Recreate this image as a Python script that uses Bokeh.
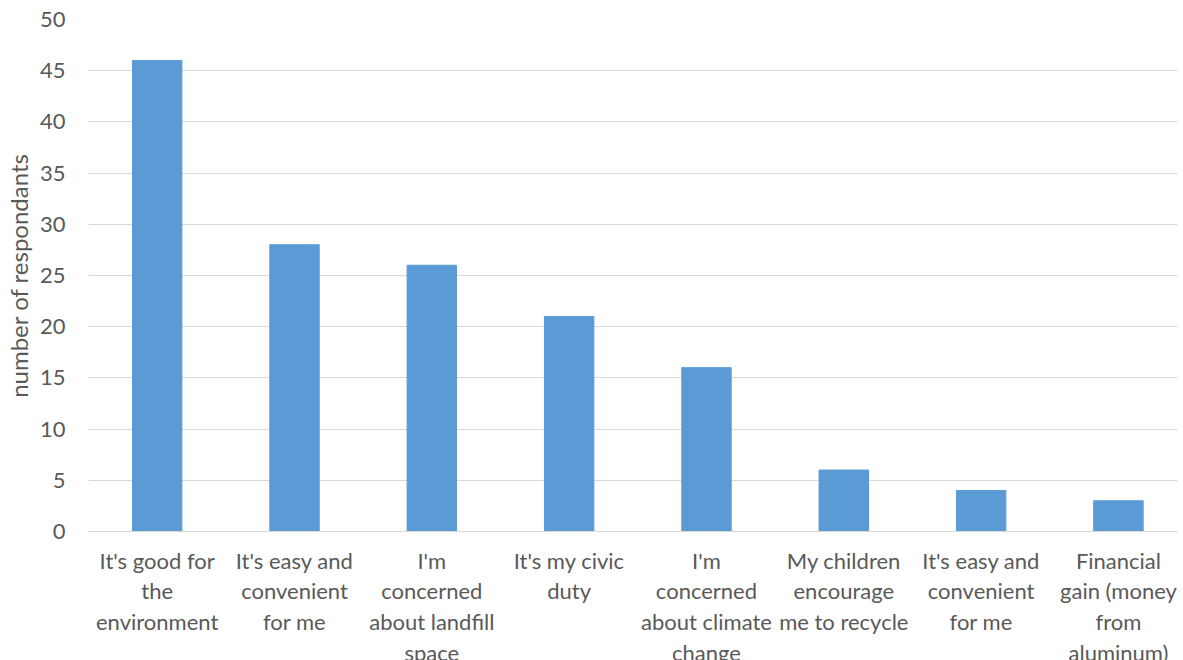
from bokeh.plotting import figure
from bokeh.models import FixedTicker, Range1d, ColumnDataSource
from bokeh.embed import file_html
from bokeh.resources import INLINE

categories = [
    "It's good for\nthe\nenvironment",
    "It's easy and\nconvenient\nfor me",
    "I'm\nconcerned\nabout landfill\nspace",
    "It's my civic\nduty",
    "I'm\nconcerned\nabout climate\nchange",
    "My children\nencourage\nme to recycle",
    "It's easy and\nconvenient\nfor me",
    "Financial\ngain (money\nfrom\naluminum)",
]
values = [46, 28, 26, 21, 16, 6, 4, 3]
y_ticks = [0, 5, 10, 15, 20, 25, 30, 35, 40, 45, 50]

xs = list(range(len(categories)))
src = ColumnDataSource(dict(x=xs, top=values))

FONT = "Lato"
TXT = "#595959"
GRID = "#d9d9d9"

p = figure(frame_width=1089, frame_height=512, output_backend="svg", toolbar_location=None,
           x_range=Range1d(-0.5, len(categories) - 0.57), y_range=Range1d(0, 50),
           min_border_left=60, min_border_right=1, min_border_top=19, min_border_bottom=10)
p.outline_line_color = None
p.vbar(x="x", top="top", width=0.36, source=src, color="#5b9bd5")

p.xaxis.ticker = FixedTicker(ticks=xs)
p.xaxis.major_label_overrides = {i: c for i, c in enumerate(categories)}
p.xaxis.axis_line_color = GRID
p.xaxis.major_tick_line_color = None
p.xaxis.minor_tick_line_color = None
p.xaxis.major_label_text_font = FONT
p.xaxis.major_label_text_font_size = "22px"
p.xaxis.major_label_text_color = TXT
p.xaxis.major_label_text_line_height = 1.14
p.xaxis.major_label_standoff = 9
p.xgrid.grid_line_color = None

p.yaxis.ticker = FixedTicker(ticks=y_ticks)
p.yaxis.axis_line_color = None
p.yaxis.major_tick_line_color = None
p.yaxis.minor_tick_line_color = None
p.yaxis.major_label_text_font = FONT
p.yaxis.major_label_text_font_size = "22px"
p.yaxis.major_label_text_color = TXT
p.yaxis.major_label_standoff = 17
p.yaxis.axis_label = "number of respondants"
p.yaxis.axis_label_text_font = FONT
p.yaxis.axis_label_text_font_size = "24px"
p.yaxis.axis_label_text_font_style = "normal"
p.yaxis.axis_label_text_color = TXT
p.yaxis.axis_label_standoff = 4
p.ygrid.grid_line_color = GRID
p.ygrid.grid_line_width = 1

open("out.html", "w").write(file_html(p, INLINE))
